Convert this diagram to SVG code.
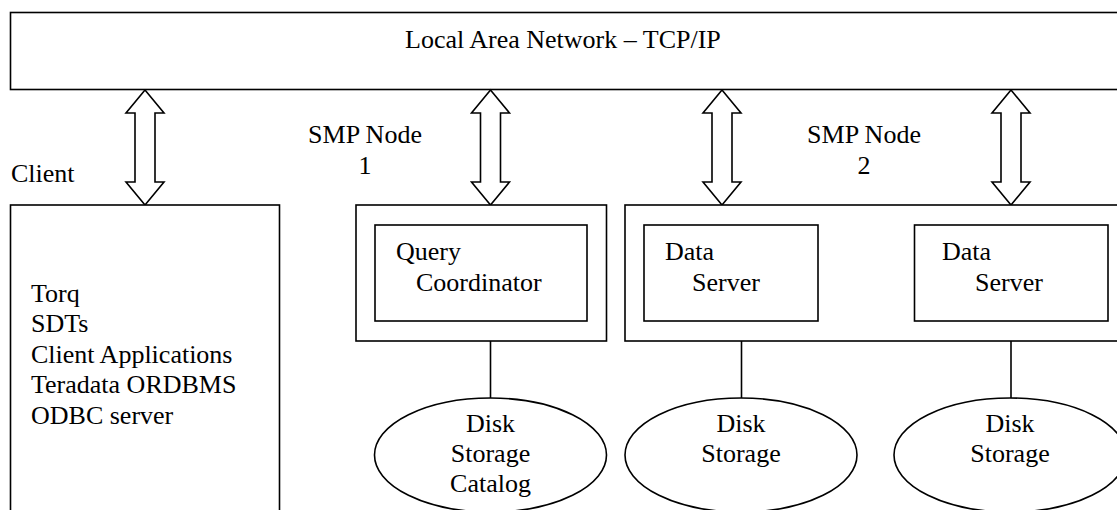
<svg xmlns="http://www.w3.org/2000/svg" xmlns:xlink="http://www.w3.org/1999/xlink" width="1117" height="510" viewBox="0 0 1117 510">
<style>
  .box { fill: #fff; stroke: #000; stroke-width: 1.6; }
  .ln { fill: none; stroke: #000; stroke-width: 1.6; }
  .arr { fill: #fff; stroke: #000; stroke-width: 1.6; stroke-linejoin: miter; }
  text { font-family: "Liberation Serif", "Times New Roman", serif; font-size: 26px; fill: #000; }
  .c { text-anchor: middle; }
</style>
<defs>
  <path id="dbl" d="M0,0 L19,23 L10,23 L10,92 L19,92 L0,115 L-19,92 L-10,92 L-10,23 L-19,23 Z"/>
</defs>
<rect width="1117" height="510" fill="#fff"/>

<g id="lan">
  <rect class="box" x="10.5" y="12.5" width="1120" height="77"/>
  <text x="405" y="48">Local Area Network – TCP/IP</text>
</g>

<g id="connectors">
  <use xlink:href="#dbl" href="#dbl" class="arr" transform="translate(145,90)"/>
  <use xlink:href="#dbl" href="#dbl" class="arr" transform="translate(490.5,90)"/>
  <use xlink:href="#dbl" href="#dbl" class="arr" transform="translate(722,90)"/>
  <use xlink:href="#dbl" href="#dbl" class="arr" transform="translate(1011,90)"/>
  <line class="ln" x1="490.5" y1="321" x2="490.5" y2="398"/>
  <line class="ln" x1="741.5" y1="321" x2="741.5" y2="398"/>
  <line class="ln" x1="1011" y1="321" x2="1011" y2="398"/>
</g>

<g id="client">
  <text x="11" y="182">Client</text>
  <rect class="box" x="10.5" y="205" width="269" height="320"/>
  <text x="31" y="302">Torq</text>
  <text x="31" y="332">SDTs</text>
  <text x="31" y="362.5">Client Applications</text>
  <text x="31" y="393">Teradata ORDBMS</text>
  <text x="31" y="424">ODBC server</text>
</g>

<g id="smp1">
  <text class="c" x="365" y="143">SMP Node</text>
  <text class="c" x="365" y="173.5">1</text>
  <rect class="box" x="356" y="205" width="250.5" height="136"/>
</g>

<g id="query-coordinator">
  <rect class="box" x="375" y="225" width="212" height="96"/>
  <text x="396" y="260">Query</text>
  <text x="416" y="291">Coordinator</text>
</g>

<g id="smp2">
  <text class="c" x="864" y="143">SMP Node</text>
  <text class="c" x="864" y="173.5">2</text>
  <rect class="box" x="625" y="205" width="510" height="136"/>
</g>

<g id="data-server-1">
  <rect class="box" x="644" y="225" width="174" height="96"/>
  <text x="665" y="260">Data</text>
  <text x="692" y="291">Server</text>
</g>

<g id="data-server-2">
  <rect class="box" x="914.5" y="225" width="193.5" height="96"/>
  <text x="942" y="260">Data</text>
  <text x="975" y="291">Server</text>
</g>

<g id="disk-catalog">
  <ellipse class="box" cx="490.5" cy="455" rx="116" ry="57"/>
  <text class="c" x="490.5" y="432">Disk</text>
  <text class="c" x="490.5" y="462">Storage</text>
  <text class="c" x="490.5" y="492">Catalog</text>
</g>

<g id="disk-1">
  <ellipse class="box" cx="741" cy="455" rx="116" ry="57"/>
  <text class="c" x="741" y="432">Disk</text>
  <text class="c" x="741" y="462">Storage</text>
</g>

<g id="disk-2">
  <ellipse class="box" cx="1010" cy="455" rx="116" ry="57"/>
  <text class="c" x="1010" y="432">Disk</text>
  <text class="c" x="1010" y="462">Storage</text>
</g>
</svg>
